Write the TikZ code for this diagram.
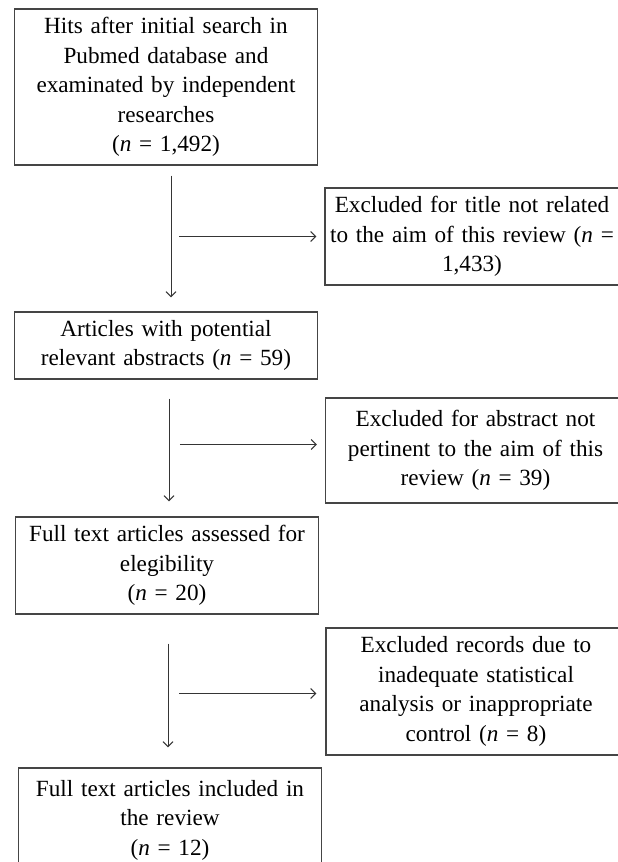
\documentclass[tikz,border=0pt]{standalone}
\usepackage{fontspec}
\setmainfont{Liberation Serif}
\usepackage{tikz}
\usepackage{xcolor}
\usetikzlibrary{arrows.meta, positioning}

\definecolor{boxline}{HTML}{454545}
\definecolor{arrowline}{HTML}{353535}

\tikzset{
  stage/.style={draw=boxline, line width=1.2pt, rectangle, align=center,
    text width=303pt, minimum width=303pt, inner xsep=0pt, inner ysep=0pt,
    font=\fontsize{23.2}{29.5}\selectfont},
  exclbox/.style={stage, text width=300pt, minimum width=300pt},
  flow/.style={draw=arrowline, line width=1pt, ->}
}

\begin{document}
\begin{tikzpicture}[x=1pt, y=-1pt, >={Straight Barb[length=5pt,width=10pt]}]
        % Page frame
        \useasboundingbox (0,0) rectangle (618,862);

        % Main boxes
        \node[stage, minimum height=156pt] (hits) at (166,87)
            {Hits after initial search in\\Pubmed database and\\examinated by independent\\researches\\(\textit{n} = 1,492)};
        \node[stage, minimum height=67pt] (abstracts) at (166,345.5)
            {Articles with potential\\relevant abstracts (\textit{n} = 59)};
        \node[stage, minimum height=97pt] (fulltext) at (167,565.5)
            {Full text articles assessed for\\elegibility\\(\textit{n} = 20)};
        \node[stage, minimum height=104pt] (included) at (170,820)
            {Full text articles included in\\the review\\(\textit{n} = 12)};

        % Exclusion boxes
        \node[exclbox, text width=294pt, minimum width=294pt, minimum height=97pt] (excltitle) at (472,236.5)
            {Excluded for title not related\\to the aim of this review (\textit{n} =\\1,433)};
        \node[exclbox, minimum height=105pt] (exclabs) at (475.5,450.5)
            {Excluded for abstract not\\pertinent to the aim of this\\review (\textit{n} = 39)};
        \node[exclbox, minimum height=127pt] (exclrec) at (476,691.5)
            {Excluded records due to\\inadequate statistical\\analysis or inappropriate\\control (\textit{n} = 8)};

        % Side arrow starts
        \coordinate (s1) at ([xshift=-145pt]excltitle.west);
        \coordinate (s2) at ([xshift=-145pt,yshift=6pt]exclabs.west);
        \coordinate (s3) at ([xshift=-146pt,yshift=-2pt]exclrec.west);

        % Flow arrows
        \draw[flow, shorten <=10pt, shorten >=14pt] ([xshift=5pt]hits.south) -- ([xshift=5pt]hits.south |- abstracts.north);
        \draw[flow, shorten <=19pt, shorten >=15pt] ([xshift=3pt]abstracts.south) -- ([xshift=3pt]abstracts.south |- fulltext.north);
        \draw[flow, shorten <=29pt, shorten >=20pt] ([xshift=1pt]fulltext.south) -- ([xshift=1pt]fulltext.south |- included.north);

        % Exclusion arrows
        \draw[flow, shorten >=8pt] (s1) -- (s1 -| excltitle.west);
        \draw[flow, shorten >=8pt] (s2) -- (s2 -| exclabs.west);
        \draw[flow, shorten >=9pt] (s3) -- (s3 -| exclrec.west);
\end{tikzpicture}
\end{document}
